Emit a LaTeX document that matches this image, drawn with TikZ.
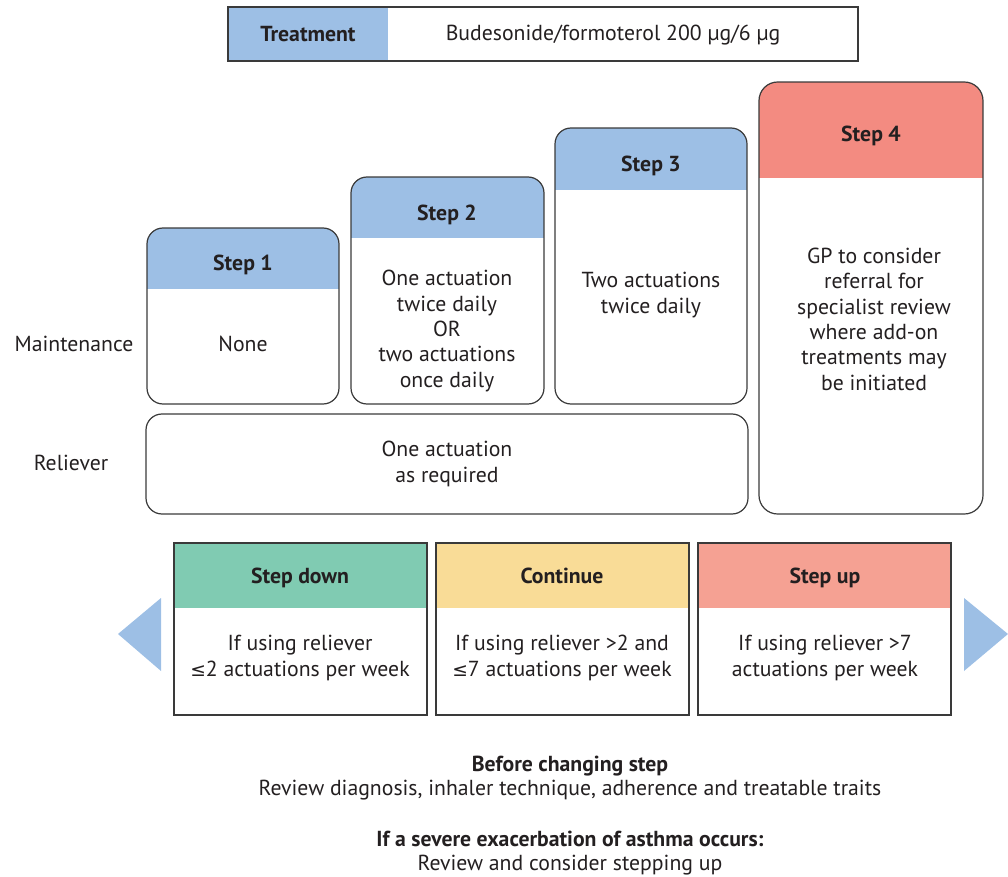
\documentclass[tikz,border=0pt]{standalone}
\usepackage{fontspec}
\setmainfont{PT Sans}
\newfontfamily\symfont{DejaVu Sans}
\definecolor{hblue}{HTML}{9DBFE5}
\definecolor{hred}{HTML}{F38B81}
\definecolor{hgreen}{HTML}{80CBB2}
\definecolor{hyellow}{HTML}{F9DC97}
\definecolor{hsalmon}{HTML}{F5A193}
\definecolor{ink}{HTML}{231F20}
\definecolor{edge}{HTML}{3A3A3A}
\newcommand\myle{{\symfont\fontsize{14}{19}\selectfont ≤}}
\begin{document}
\begin{tikzpicture}[x=0.75pt,y=-0.75pt,
  every node/.style={text=ink, font=\fontsize{16.3}{19}\selectfont, yshift=-0.8pt},
  box/.style={draw=edge, line width=0.9pt},
  head/.style={font=\fontsize{16.3}{19}\selectfont\bfseries, text height=11.5pt, text depth=3.5pt, yshift=-1.2pt},
  body/.style={align=center},
  lab/.style={align=center}]
\useasboundingbox (0,0) rectangle (1008,877);
% Treatment
\fill[hblue] (228,7) rectangle (388,61);
\draw[box] (228,7) rectangle (858,61);
\node[head] (treat) at (308,34) {Treatment};
\node (drug) at (613,34) {Budesonide/formoterol 200 µg/6 µg};
% Step 1
\begin{scope}
\clip[rounded corners=12] (147,228) rectangle (339,404);
\fill[hblue] (147,228) rectangle (339,289);
\end{scope}
\draw[box, rounded corners=12] (147,228) rectangle (339,404);
\node[head] (s1h) at (243,263) {Step 1};
\node[body] (s1b) at (243,343) {None};
% Step 2
\begin{scope}
\clip[rounded corners=12] (351,177) rectangle (544,404);
\fill[hblue] (351,177) rectangle (544,238);
\end{scope}
\draw[box, rounded corners=12] (351,177) rectangle (544,404);
\node[head] (s2h) at (447,213) {Step 2};
\node[body] (s2b) at (447,330) {One actuation\\twice daily\\OR\\two actuations\\once daily};
% Step 3
\begin{scope}
\clip[rounded corners=12] (555,128) rectangle (747,404);
\fill[hblue] (555,128) rectangle (747,190);
\end{scope}
\draw[box, rounded corners=12] (555,128) rectangle (747,404);
\node[head] (s3h) at (651,164) {Step 3};
\node[body] (s3b) at (651,294) {Two actuations\\twice daily};
% Step 4
\begin{scope}
\clip[rounded corners=14] (759,82) rectangle (983,514);
\fill[hred] (759,82) rectangle (983,178);
\end{scope}
\draw[box, rounded corners=14] (759,82) rectangle (983,514);
\node[head] (s4h) at (871,134) {Step 4};
\node[body] (s4b) at (874,318) {GP to consider\\referral for\\specialist review\\where add-on\\treatments may\\be initiated};
% Reliever
\draw[box, rounded corners=12] (146,414) rectangle (748,514);
\node[body] (relb) at (447,463) {One actuation\\as required};
% Row labels
\node[lab] (maint) at (74,343) {Maintenance};
\node[lab] (reliev) at (71,462) {Reliever};
% Bottom cards
\fill[hgreen] (174,543) rectangle (427,608);
\draw[box] (174,543) rectangle (427,715);
\node[head] (sdh) at (300,576) {Step down};
\node[body] (sdb) at (300,657) {If using reliever\\\myle2 actuations per week};
\fill[hyellow] (436,543) rectangle (689,608);
\draw[box] (436,543) rectangle (689,715);
\node[head] (coh) at (562,576) {Continue};
\node[body] (cob) at (562,657) {If using reliever >2 and\\\myle7 actuations per week};
\fill[hsalmon] (698,543) rectangle (951,608);
\draw[box] (698,543) rectangle (951,715);
\node[head] (suh) at (825,576) {Step up};
\node[body] (sub) at (825,657) {If using reliever >7\\actuations per week};
% Arrows
\fill[hblue] (118,634) -- (161,598) -- (161,671) -- cycle;
\fill[hblue] (964,598) -- (1008,634) -- (964,671) -- cycle;
% Notes
\node[head] (n1) at (570,763) {Before changing step};
\node (n2) at (570,789) {Review diagnosis, inhaler technique, adherence and treatable traits};
\node[head] (n3) at (570,838) {If a severe exacerbation of asthma occurs:};
\node (n4) at (570,864) {Review and consider stepping up};
\end{tikzpicture}
\end{document}
